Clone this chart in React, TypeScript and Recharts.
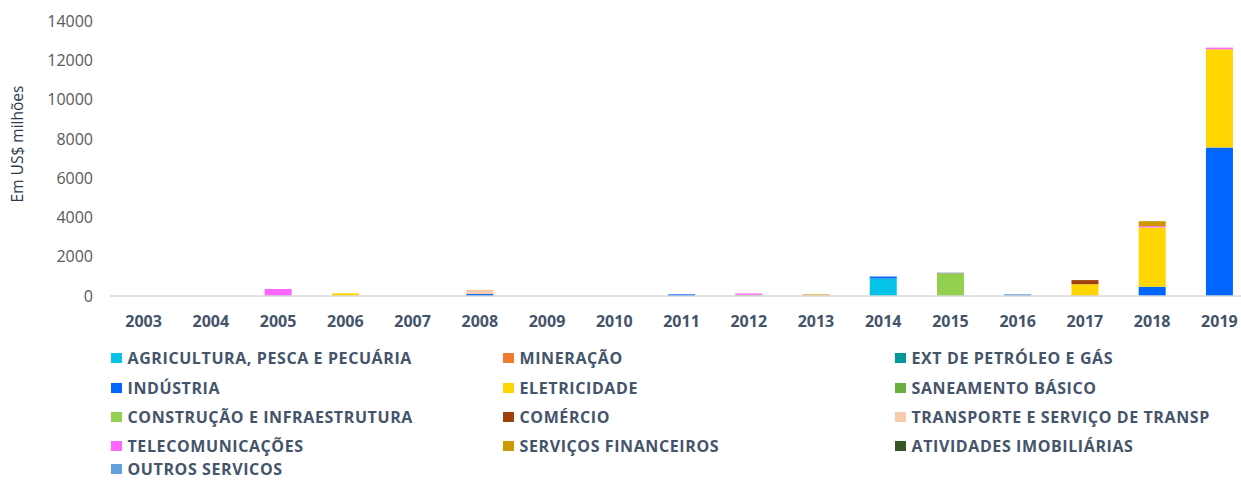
import React from 'react';
import { BarChart, Bar, XAxis, YAxis } from 'recharts';

const years = ['2003', '2004', '2005', '2006', '2007', '2008', '2009', '2010', '2011', '2012', '2013', '2014', '2015', '2016', '2017', '2018', '2019'];

//                     03 04   05   06 07   08 09 10  11  12  13   14    15  16   17    18    19
const agricultura   = [0, 0,   0,   0, 0,   0, 0, 0,  0,  0,  0, 890,    0,  0,   0,    0,    0];
const mineracao     = [0, 0,   0,   0, 0,   0, 0, 0,  0,  0,  0,   0,    0,  0,   0,    0,    0];
const extPetroleo   = [0, 0,   0,   0, 0,   0, 0, 0,  0,  0,  0,   0,    0,  0,   0,    0,    0];
const industria     = [0, 0,   0,   0, 0, 100, 0, 0, 85,  0,  0, 100,    0,  0,   0,  470, 7560];
const eletricidade  = [0, 0,   0, 137, 0,   0, 0, 0,  0,  0,  0,   0,    0,  0, 600, 3020, 5000];
const saneamento    = [0, 0,   0,   0, 0,   0, 0, 0,  0,  0,  0,   0,    0,  0,   0,    0,    0];
const construcao    = [0, 0,   0,   0, 0,   0, 0, 0,  0, 60,  0,   0, 1120,  0,   0,    0,    0];
const comercio      = [0, 0,   0,   0, 0,   0, 0, 0,  0,  0,  0,   0,    0,  0, 210,    0,    0];
const transporte    = [0, 0,   0,   0, 0, 220, 0, 0,  0,  0, 30,   0,    0,  0,   0,    0,    0];
const telecom       = [0, 0, 356,   0, 0,   0, 0, 0,  0, 70,  0,   0,    0,  0,   0,   70,   85];
const financeiros   = [0, 0,   0,   0, 0,   0, 0, 0,  0,  0, 50,   0,   35,  0,   0,  250,    0];
const imobiliarias  = [0, 0,   0,   0, 0,   0, 0, 0,  0,  0,  0,   0,    0,  0,   0,    0,    0];
const outros        = [0, 0,   0,   0, 0,   0, 0, 0,  0,  0,  0,   0,   35, 90,   0,    0,    0];

const yTicks = [0, 2000, 4000, 6000, 8000, 10000, 12000, 14000];
const yTitle = 'Em US$ milhões';

const series = [
  { key: 'agricultura', name: 'AGRICULTURA, PESCA E PECUÁRIA', color: '#05C3E6', values: agricultura },
  { key: 'mineracao', name: 'MINERAÇÃO', color: '#F07A30', values: mineracao },
  { key: 'extPetroleo', name: 'EXT DE PETRÓLEO E GÁS', color: '#00999A', values: extPetroleo },
  { key: 'industria', name: 'INDÚSTRIA', color: '#0066FF', values: industria },
  { key: 'eletricidade', name: 'ELETRICIDADE', color: '#FFD600', values: eletricidade },
  { key: 'saneamento', name: 'SANEAMENTO BÁSICO', color: '#6AAE3E', values: saneamento },
  { key: 'construcao', name: 'CONSTRUÇÃO E INFRAESTRUTURA', color: '#92D050', values: construcao },
  { key: 'comercio', name: 'COMÉRCIO', color: '#A0410D', values: comercio },
  { key: 'transporte', name: 'TRANSPORTE E SERVIÇO DE TRANSP', color: '#F8CBAD', values: transporte },
  { key: 'telecom', name: 'TELECOMUNICAÇÕES', color: '#FF66FF', values: telecom },
  { key: 'financeiros', name: 'SERVIÇOS FINANCEIROS', color: '#CC9900', values: financeiros },
  { key: 'imobiliarias', name: 'ATIVIDADES IMOBILIÁRIAS', color: '#375623', values: imobiliarias },
  { key: 'outros', name: 'OUTROS SERVICOS', color: '#64A0DE', values: outros },
];

const data = years.map((y, i) => {
  const row: Record<string, string | number> = { year: y };
  series.forEach((s) => {
    row[s.key] = s.values[i];
  });
  return row;
});

const FONT = '"Open Sans", "Noto Sans", sans-serif';
const legendCols = [111, 503, 895];
const legendRows = [358, 388, 417, 446, 469];

export default function App() {
  return (
    <div
      style={{
        position: 'absolute',
        left: 0,
        top: 0,
        width: 1241,
        height: 481,
        overflow: 'hidden',
        background: '#ffffff',
      }}
    >
      <BarChart
        width={1253}
        height={340}
        data={data}
        margin={{ top: 21, right: 0, bottom: 0, left: 0 }}
        barCategoryGap="30%"
      >
        <XAxis
          dataKey="year"
          height={44}
          interval={0}
          tickLine={false}
          tickSize={0}
          tickMargin={20}
          axisLine={{ stroke: '#d9d9d9', strokeWidth: 1.5 }}
          tick={{ fill: '#44546a', fontSize: 16, fontWeight: 700, fontFamily: FONT }}
        />
        <YAxis
          width={110}
          domain={[0, 14000]}
          ticks={yTicks}
          interval={0}
          axisLine={false}
          tickLine={false}
          tickSize={0}
          tickMargin={17}
          tick={{ fill: '#595959', fontSize: 16, fontFamily: FONT }}
          label={() => (
            <text
              x={23}
              y={144}
              transform="rotate(-90 23 144)"
              textAnchor="middle"
              fill="#2f3b4d"
              fontSize={15.5}
              fontFamily={FONT}
            >
              {yTitle}
            </text>
          )}
        />
        {series.map((s) => (
          <Bar
            key={s.key}
            dataKey={s.key}
            name={s.name}
            stackId="a"
            fill={s.color}
            isAnimationActive={false}
          />
        ))}
      </BarChart>
      {series.map((s, i) => {
        const col = i % 3;
        const row = Math.floor(i / 3);
        return (
          <div
            key={s.key}
            style={{
              position: 'absolute',
              left: legendCols[col],
              top: legendRows[row] - 8,
              height: 16,
              lineHeight: '16px',
              display: 'flex',
              alignItems: 'center',
              whiteSpace: 'nowrap',
              fontFamily: FONT,
              fontWeight: 700,
              fontSize: 16,
              letterSpacing: 0.6,
              color: '#44546a',
            }}
          >
            <span
              style={{
                display: 'inline-block',
                width: 10.5,
                height: 10.5,
                background: s.color,
                marginRight: 6,
              }}
            />
            <span>{s.name}</span>
          </div>
        );
      })}
    </div>
  );
}
